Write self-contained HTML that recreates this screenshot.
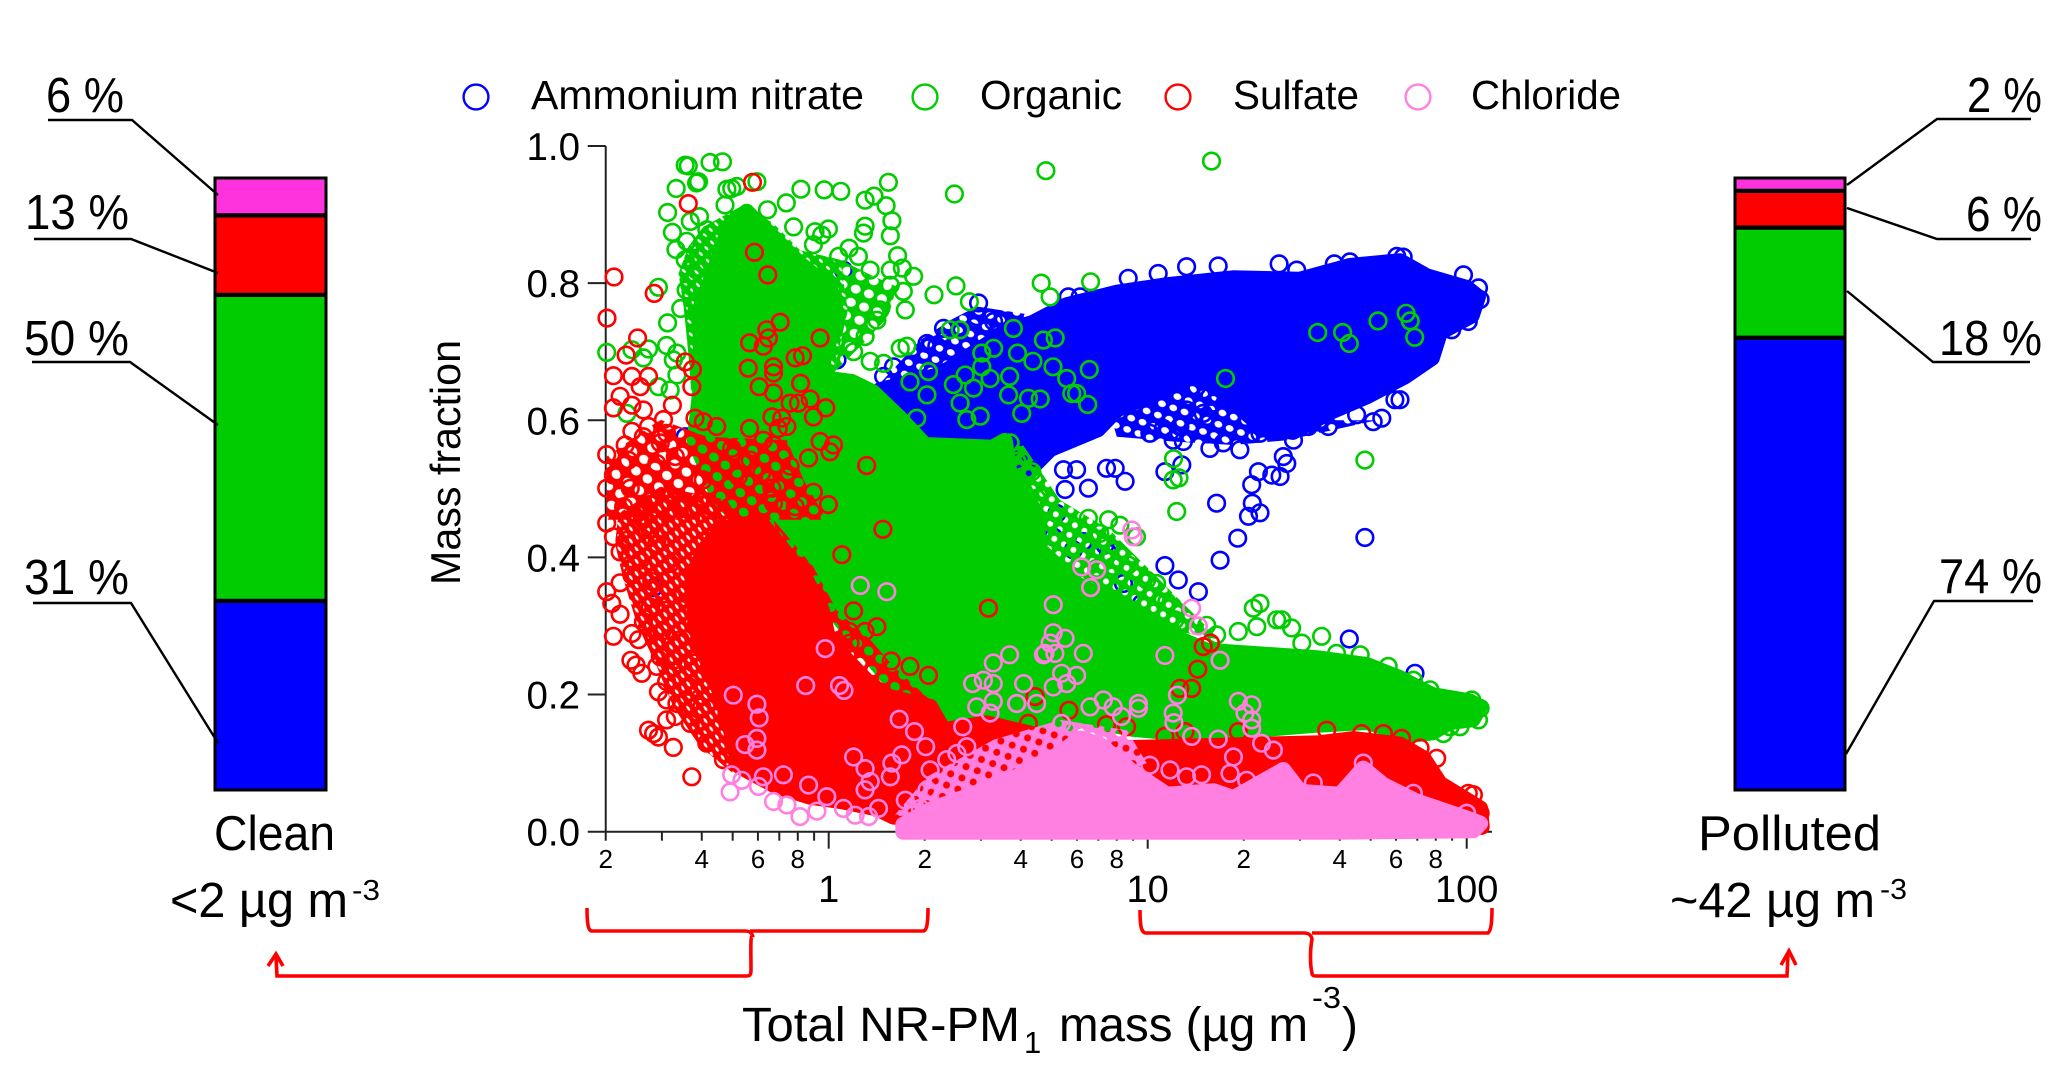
<!DOCTYPE html>
<html>
<head>
<meta charset="utf-8">
<title>NR-PM1 mass fraction</title>
<style>
html,body{margin:0;padding:0;background:#fff;width:2067px;height:1079px;overflow:hidden}
svg{display:block}
text{font-family:"Liberation Sans",sans-serif;fill:#000}
</style>
</head>
<body>
<svg id="figure" xmlns="http://www.w3.org/2000/svg" width="2067" height="1079" viewBox="0 0 2067 1079">
  <defs id="defs"></defs>
  <g id="left-bar"></g>
  <g id="right-bar"></g>

  <g fill="none" stroke="#000" stroke-width="2.4">
    <polyline points="48,120 132,120 218,195"/>
    <polyline points="34,239 131,239 218,273"/>
    <polyline points="32,362 130,362 218,425"/>
    <polyline points="33,603 131,603 218,743"/>
  </g>
  <g fill="none" stroke="#000" stroke-width="2.4">
    <polyline points="1847,185 1937,119 2031,119"/>
    <polyline points="1847,208 1937,239 2031,239"/>
    <polyline points="1847,291 1933,362 2030,362"/>
    <polyline points="1846,754 1934,601 2033,601"/>
  </g>

  <g font-size="49">
    <text x="46" y="112" textLength="78" lengthAdjust="spacingAndGlyphs">6 %</text>
    <text x="25" y="229" textLength="104" lengthAdjust="spacingAndGlyphs">13 %</text>
    <text x="24" y="355" textLength="105" lengthAdjust="spacingAndGlyphs">50 %</text>
    <text x="24" y="594" textLength="105" lengthAdjust="spacingAndGlyphs">31 %</text>
    <text x="1967" y="112" textLength="75" lengthAdjust="spacingAndGlyphs">2 %</text>
    <text x="1966" y="231" textLength="76" lengthAdjust="spacingAndGlyphs">6 %</text>
    <text x="1939" y="355" textLength="103" lengthAdjust="spacingAndGlyphs">18 %</text>
    <text x="1939" y="593" textLength="103" lengthAdjust="spacingAndGlyphs">74 %</text>
  </g>

  <g>
    <text x="214" y="850" font-size="49" textLength="121" lengthAdjust="spacingAndGlyphs">Clean</text>
    <text x="170" y="917" font-size="49" textLength="178" lengthAdjust="spacingAndGlyphs">&lt;2 µg m</text>
    <text x="352" y="900" font-size="29" textLength="28" lengthAdjust="spacingAndGlyphs">-3</text>
  </g>
  <g>
    <text x="1698" y="850" font-size="49" textLength="183" lengthAdjust="spacingAndGlyphs">Polluted</text>
    <text x="1670" y="917" font-size="49" textLength="205" lengthAdjust="spacingAndGlyphs">~42 µg m</text>
    <text x="1880" y="899" font-size="29" textLength="27" lengthAdjust="spacingAndGlyphs">-3</text>
  </g>

  <g font-size="40.5">
    <circle cx="476" cy="97" r="12.4" fill="none" stroke="#0000ff" stroke-width="2.4"/>
    <text x="531" y="109" textLength="333" lengthAdjust="spacingAndGlyphs">Ammonium nitrate</text>
    <circle cx="925" cy="97" r="12.4" fill="none" stroke="#00cc00" stroke-width="2.4"/>
    <text x="980" y="109" textLength="142" lengthAdjust="spacingAndGlyphs">Organic</text>
    <circle cx="1178" cy="97" r="12.4" fill="none" stroke="#ff0000" stroke-width="2.4"/>
    <text x="1233" y="109" textLength="126" lengthAdjust="spacingAndGlyphs">Sulfate</text>
    <circle cx="1418" cy="97" r="12.4" fill="none" stroke="#ff80e0" stroke-width="2.4"/>
    <text x="1471" y="109" textLength="150" lengthAdjust="spacingAndGlyphs">Chloride</text>
  </g>

  <g id="axes"></g>
  <g id="marks"></g>

  <text transform="translate(460,585) rotate(-90)" font-size="41.5" textLength="245" lengthAdjust="spacingAndGlyphs">Mass fraction</text>

  <g>
    <text x="742" y="1041" font-size="48" textLength="278" lengthAdjust="spacingAndGlyphs">Total NR-PM</text>
    <text x="1024" y="1053" font-size="31">1</text>
    <text x="1059" y="1041" font-size="48" textLength="249" lengthAdjust="spacingAndGlyphs">mass (µg m</text>
    <text x="1312" y="1008" font-size="31" textLength="29" lengthAdjust="spacingAndGlyphs">-3</text>
    <text x="1342" y="1041" font-size="48">)</text>
  </g>

  <g fill="none" stroke="#ff0000" stroke-width="3.6">
    <path d="M587,908 C587,922 588,931 592,931 L745,931 C750,931 752,933 753,937 C750,933 751,950 751,970 C751,975 750,976 746,976 L277,976 L276,956"/>
    <path d="M928,908 C928,922 927,931 923,931 L750,931"/>
    <path d="M268,966 L276,954 L283,966"/>
    <path d="M1140,910 C1140,925 1141,933 1146,933 L1304,933 C1309,933 1311,935 1312,939 C1310,950 1310,965 1312,973 C1312,976 1314,976 1318,976 L1787,976 L1788,953"/>
    <path d="M1781,965 L1789,951 L1796,965"/>
    <path d="M1492,908 C1492,922 1491,931 1488,933 L1312,933"/>
  </g>
</svg>

<script>
// ---------- stacked bars (percent of total mass) ----------
const barSpecies = ['nitrate', 'organic', 'sulfate', 'chloride'];
const barColors = ['#0000ff', '#00cc00', '#ff0000', '#ff33dd'];
const cleanPercent = [31, 50, 13, 6];
const pollutedPercent = [74, 18, 6, 2];

// ---------- axis ticks ----------
const yTicks = [0, 0.2, 0.4, 0.6, 0.8, 1.0];
const yTickLabels = ['0.0', '0.2', '0.4', '0.6', '0.8', '1.0'];
const xMajorTicks = [1, 10, 100];
const xMajorLabels = ['1', '10', '100'];
const xMinorTicks = [0.2, 0.3, 0.4, 0.5, 0.6, 0.7, 0.8, 0.9, 2, 3, 4, 5, 6, 7, 8, 9, 20, 30, 40, 50, 60, 70, 80, 90];
const xMinorLabelled = [0.2, 0.4, 0.6, 0.8, 2, 4, 6, 8, 20, 40, 60, 80];
const xMinorLabels = ['2', '4', '6', '8', '2', '4', '6', '8', '2', '4', '6', '8'];

// ---------- outlines of the saturated point clouds (log10 mass, mass fraction) ----------
const nitrateCloudLogMass = [0.161,0.348,0.568,0.640,0.747,0.904,1.06,1.267,1.477,1.634,
  1.791,1.875,2.0,2.035,2.016,1.916,1.891,1.806,1.687,1.571,
  1.455,1.352,1.164,1.06,0.904,0.844,0.694,0.537,0.224];
const nitrateCloudFraction = [0.644,0.666,0.732,0.742,0.768,0.786,0.797,0.807,0.805,0.825,
  0.832,0.81,0.793,0.78,0.753,0.728,0.691,0.664,0.635,0.612,
  0.583,0.593,0.67,0.646,0.616,0.587,0.558,0.484,0.484];

const organicCloudLogMass = [-0.401,-0.401,-0.401,-0.357,-0.317,-0.257,-0.197,-0.107,0.003,0.028,
  -0.012,-0.028,0.072,0.138,0.223,0.301,0.514,0.552,0.567,0.614,
  0.649,0.661,0.781,0.906,1.038,1.185,1.373,1.53,1.687,1.79,
  1.893,2.009,2.04,2.019,1.947,1.893,1.821,1.687,1.53,1.373,
  1.163,0.953,0.796,0.536,0.223,-0.091,-0.342,-0.42];
const organicCloudFraction = [0.649,0.717,0.765,0.819,0.875,0.904,0.875,0.834,0.793,0.746,
  0.70,0.662,0.656,0.641,0.603,0.564,0.56,0.57,0.52,0.498,
  0.462,0.411,0.36,0.331,0.293,0.264,0.258,0.253,0.243,0.224,
  0.199,0.19,0.182,0.164,0.16,0.145,0.141,0.16,0.156,0.15,
  0.141,0.15,0.164,0.116,0.204,0.382,0.484,0.571];

const sulfateCloudLogMass = [-0.424,-0.382,-0.33,-0.215,-0.152,-0.074,-0.022,-0.001,0.057,0.135,
  0.187,0.318,0.36,0.496,0.85,0.955,1.373,1.54,1.645,1.791,
  1.864,1.916,1.99,2.042,2.047,1.582,1.06,0.726,0.203,0.151,
  0.046,-0.058,-0.163,-0.278,-0.288,-0.33,-0.403,-0.424];
const sulfateCloudFraction = [0.377,0.416,0.442,0.452,0.416,0.37,0.323,0.28,0.25,0.212,
  0.197,0.182,0.148,0.158,0.119,0.122,0.127,0.129,0.135,0.127,
  0.107,0.07,0.049,0.034,0.007,0.002,0.002,0.007,0.022,0.034,
  0.044,0.051,0.066,0.095,0.114,0.192,0.275,0.338];

const chlorideCloudLogMass = [0.234,0.328,0.433,0.59,0.726,0.788,0.85,0.945,1.06,1.206,
  1.269,1.425,1.478,1.603,1.676,1.739,1.843,1.99,2.042,2.021,
  1.582,1.06,0.234];
const chlorideCloudFraction = [0.01,0.034,0.051,0.08,0.114,0.136,0.127,0.09,0.054,0.059,
  0.049,0.09,0.058,0.054,0.092,0.068,0.044,0.021,0.012,0.002,
  0,0,0];

// ---------- outlines of the part-resolved fringes, where rings overlap but do not saturate ----------
const nitrateFringeLeftLogMass = [0.161,0.287,0.381,0.464,0.673,0.726,0.517,0.203];
const nitrateFringeLeftFraction = [0.654,0.717,0.746,0.766,0.751,0.601,0.503,0.6];
const nitrateFringeGapLogMass = [0.882,1.08,1.373,1.582,1.718,1.436,1.269,1.08,0.903];
const nitrateFringeGapFraction = [0.61,0.654,0.669,0.6,0.6,0.571,0.564,0.569,0.576];

const organicFringeFanLogMass = [-0.471,-0.44,-0.393,-0.267,-0.173,-0.09,0.036,0.06,0.015,0.015,
  -0.372,-0.424,-0.44,-0.455];
const organicFringeFanFraction = [0.814,0.853,0.882,0.914,0.887,0.848,0.834,0.76,0.669,0.552,
  0.479,0.601,0.698,0.766];
const organicFringeRightLogMass = [0.036,0.14,0.213,0.187,0.099,0.015,0.06];
const organicFringeRightFraction = [0.834,0.81,0.795,0.751,0.708,0.669,0.76];
const organicFringeEdgeLogMass = [0.599,0.724,0.881,1.006,1.1,1.226,0.912,0.661,0.536];
const organicFringeEdgeFraction = [0.571,0.484,0.44,0.382,0.338,0.28,0.309,0.396,0.528];

const sulfateFringeFanLogMass = [-0.659,-0.67,-0.643,-0.602,-0.539,-0.487,-0.403,-0.299,-0.194,-0.194,-0.319,-0.528];
const sulfateFringeFanFraction = [0.464,0.42,0.367,0.304,0.241,0.182,0.124,0.085,0.143,0.386,0.484,0.503];
const sulfateFringeEdgeLogMass = [-0.173,-0.048,0.025,0.13,0.203,0.318,0.203,-0.006,-0.131];
const sulfateFringeEdgeFraction = [0.455,0.386,0.323,0.28,0.241,0.192,0.192,0.265,0.362];
const sulfateFringeUpperLogMass = [-0.696,-0.528,-0.382,-0.131,-0.079,-0.006,-0.696];
const sulfateFringeUpperFraction = [0.547,0.601,0.576,0.571,0.513,0.455,0.455];

const chlorideFringeLogMass = [0.203,0.308,0.517,0.726,0.935,0.997,0.726];
const chlorideFringeFraction = [0.022,0.08,0.134,0.163,0.148,0.1,0.046];

// ---------- individually resolved points (log10 mass, mass fraction) ----------
const nitrateLogMass = [0.751,0.788,0.939,1.033,1.122,1.221,1.412,1.467,1.585,1.634,
  1.781,1.801,1.99,2.037,2.042,2.005,1.953,1.791,1.775,1.734,
  1.707,1.655,1.566,1.504,1.457,1.352,1.289,1.195,1.237,1.112,
  1.08,1.049,1.007,1.174,1.122,1.195,1.154,1.206,1.101,1.425,
  1.436,1.415,1.389,1.347,1.326,1.328,1.316,1.352,0.871,0.898,
  0.777,0.736,0.929,0.814,0.741,0.715,1.054,1.107,1.216,1.282,
  1.227,1.054,1.096,1.159,1.681,1.632,1.838,0.798,0.866,0.877,
  0.767,0.704,0.924,0.981,0.046,0.026,-0.45,-0.549,0.47,0.36,
  0.308,0.339,0.464,0.517,0.172,0.203];
const nitrateFraction = [0.78,0.78,0.807,0.814,0.824,0.825,0.828,0.819,0.828,0.831,
  0.839,0.838,0.812,0.793,0.776,0.744,0.732,0.63,0.63,0.603,
  0.598,0.608,0.591,0.591,0.571,0.581,0.557,0.559,0.567,0.569,
  0.571,0.588,0.581,0.61,0.615,0.635,0.649,0.625,0.591,0.547,
  0.537,0.518,0.52,0.525,0.506,0.479,0.46,0.465,0.53,0.53,
  0.528,0.528,0.511,0.501,0.499,0.464,0.525,0.535,0.479,0.428,
  0.396,0.388,0.367,0.35,0.429,0.281,0.231,0.423,0.418,0.406,
  0.411,0.43,0.362,0.333,0.819,0.688,0.576,0.356,0.771,0.734,
  0.712,0.708,0.751,0.744,0.664,0.678];

const organicLogMass = [-0.45,-0.44,-0.372,-0.333,-0.225,-0.288,-0.304,-0.319,-0.408,-0.414,
  -0.478,-0.087,-0.014,0.038,0.187,-0.133,0.114,0.142,0.18,0.394,
  0.681,-0.505,-0.49,-0.325,-0.434,-0.405,-0.479,-0.445,-0.192,-0.11,
  -0.043,-0.001,-0.022,-0.048,0.064,0.114,0.109,0.198,0.193,0.093,
  0.031,0.216,0.193,0.231,0.266,0.13,0.24,0.234,0.399,0.33,
  0.441,0.666,0.694,-0.534,-0.464,-0.505,-0.447,-0.414,-0.45,-0.382,
  -0.508,-0.696,-0.581,-0.565,-0.617,-0.476,-0.487,-0.476,-0.534,-0.633,
  -0.497,0.193,0.161,0.151,0.114,0.078,0.13,0.224,0.245,0.172,
  0.412,0.381,0.579,0.673,0.71,0.592,0.64,0.703,0.517,0.48,
  0.48,0.428,0.313,0.255,0.567,0.564,0.626,0.663,0.605,0.308,
  0.391,0.412,0.506,0.454,0.276,0.433,0.475,0.569,0.59,0.637,
  0.652,1.2,0.821,0.746,0.817,0.777,0.812,0.762,1.533,1.611,
  1.632,1.722,1.81,1.823,1.837,1.244,1.081,1.681,1.08,1.098,
  1.091,0.814,0.877,0.913,0.965,0.85,0.939,0.892,0.84,0.997,
  1.028,1.06,1.086,1.185,1.216,1.331,1.352,1.284,1.342,1.404,
  1.42,1.451,1.483,1.545,1.592,1.666,1.754,1.833,1.885,2.016,
  2.042,2.037,1.979,1.948,1.927];
const organicFraction = [0.972,0.971,0.976,0.977,0.948,0.941,0.938,0.937,0.948,0.946,
  0.938,0.937,0.936,0.934,0.947,0.917,0.921,0.927,0.913,0.93,
  0.964,0.903,0.874,0.914,0.89,0.897,0.849,0.861,0.907,0.882,
  0.875,0.879,0.87,0.856,0.851,0.883,0.873,0.891,0.869,0.839,
  0.839,0.84,0.819,0.822,0.81,0.819,0.761,0.788,0.796,0.783,
  0.773,0.8,0.78,0.794,0.763,0.742,0.79,0.819,0.834,0.878,
  0.709,0.699,0.691,0.704,0.703,0.698,0.688,0.666,0.649,0.61,
  0.644,0.797,0.761,0.746,0.722,0.70,0.686,0.705,0.708,0.683,
  0.732,0.732,0.734,0.717,0.72,0.698,0.686,0.678,0.705,0.698,
  0.678,0.666,0.671,0.656,0.664,0.637,0.632,0.631,0.61,0.637,
  0.652,0.625,0.661,0.647,0.603,0.601,0.606,0.567,0.54,0.525,
  0.486,0.978,0.802,0.661,0.674,0.639,0.623,0.639,0.728,0.728,
  0.712,0.745,0.756,0.745,0.721,0.661,0.544,0.542,0.513,0.516,
  0.467,0.457,0.455,0.447,0.43,0.435,0.389,0.387,0.384,0.367,
  0.362,0.335,0.309,0.301,0.287,0.326,0.333,0.292,0.299,0.309,
  0.309,0.297,0.275,0.285,0.26,0.258,0.241,0.221,0.207,0.192,
  0.18,0.163,0.153,0.153,0.143];

const sulfateLogMass = [-0.239,-0.44,-0.233,-0.191,-0.673,-0.547,-0.695,-0.152,-0.194,-0.189,
  -0.248,-0.205,-0.027,-0.599,-0.105,-0.082,-0.635,-0.675,-0.617,-0.565,
  -0.45,-0.427,-0.654,-0.591,-0.675,-0.581,-0.617,-0.49,-0.429,-0.252,
  -0.173,-0.173,-0.218,-0.088,-0.173,-0.058,-0.121,-0.095,-0.009,-0.048,
  -0.178,-0.147,-0.419,-0.393,-0.351,-0.248,-0.518,-0.617,-0.565,-0.508,
  -0.581,-0.638,-0.528,-0.696,-0.628,0.015,-0.027,0.004,-0.063,0.119,
  -0.158,-0.131,-0.205,-0.173,-0.304,-0.246,-0.121,-0.21,-0.283,-0.393,
  -0.481,-0.539,-0.675,-0.696,-0.622,-0.178,-0.048,-0.105,-0.001,-0.173,
  0.17,0.041,0.078,0.151,0.114,0.065,0.067,0.196,0.255,0.313,
  0.501,-0.429,-0.565,-0.549,-0.534,-0.487,-0.696,-0.68,-0.654,-0.675,
  -0.617,-0.596,-0.62,-0.604,-0.586,-0.581,-0.617,-0.654,-0.696,-0.675,
  -0.654,-0.539,-0.539,-0.534,-0.508,-0.508,-0.481,-0.633,-0.591,-0.555,
  -0.508,-0.466,-0.424,-0.372,-0.319,-0.581,-0.539,-0.497,-0.455,-0.414,
  -0.372,-0.528,-0.508,-0.476,-0.434,-0.382,-0.33,-0.56,-0.523,-0.487,
  -0.44,-0.398,-0.643,-0.602,-0.56,1.174,1.197,1.157,1.101,1.138,
  0.647,0.753,0.934,0.871,1.054,1.117,1.284,1.561,1.671,1.739,
  1.796,1.854,1.906,2.005,2.021,2.042,1.592,0.626];
const sulfateFraction = [0.947,0.916,0.845,0.812,0.809,0.785,0.749,0.743,0.732,0.72,
  0.713,0.708,0.72,0.72,0.691,0.694,0.695,0.665,0.664,0.664,
  0.685,0.674,0.635,0.649,0.618,0.615,0.622,0.622,0.649,0.676,
  0.678,0.669,0.649,0.654,0.64,0.631,0.625,0.625,0.618,0.605,
  0.605,0.603,0.603,0.598,0.591,0.588,0.601,0.584,0.591,0.581,
  0.576,0.564,0.567,0.55,0.542,0.564,0.569,0.554,0.545,0.534,
  0.588,0.591,0.571,0.564,0.559,0.542,0.533,0.523,0.518,0.513,
  0.547,0.537,0.52,0.501,0.501,0.501,0.495,0.474,0.477,0.479,
  0.441,0.404,0.322,0.299,0.292,0.292,0.275,0.249,0.241,0.228,
  0.326,0.08,0.148,0.143,0.138,0.123,0.35,0.333,0.317,0.285,
  0.289,0.28,0.25,0.243,0.231,0.306,0.374,0.363,0.45,0.43,
  0.408,0.275,0.241,0.204,0.192,0.163,0.168,0.425,0.396,0.365,
  0.323,0.28,0.246,0.212,0.173,0.455,0.42,0.391,0.348,0.304,
  0.26,0.255,0.219,0.187,0.158,0.129,0.105,0.328,0.292,0.25,
  0.212,0.182,0.474,0.464,0.44,0.27,0.275,0.237,0.209,0.209,
  0.197,0.177,0.153,0.156,0.139,0.146,0.146,0.148,0.143,0.143,
  0.136,0.122,0.107,0.056,0.054,0.027,0.08,0.158];

const chlorideLogMass = [0.099,0.182,-0.299,-0.072,0.034,0.048,-0.225,-0.218,-0.225,-0.262,
  -0.225,-0.011,0.221,0.269,0.304,0.078,0.114,0.198,0.229,0.193,
  0.13,0.114,-0.142,-0.205,-0.304,-0.272,-0.309,-0.22,-0.173,-0.131,
  -0.063,-0.09,-0.006,-0.037,0.046,0.083,0.125,0.156,0.24,0.287,
  0.318,0.37,0.402,0.433,0.308,0.42,0.516,0.567,0.704,0.673,
  0.694,0.611,0.451,0.485,0.516,0.59,0.464,0.506,0.516,0.652,
  0.704,0.741,0.678,0.709,0.798,0.73,0.777,0.746,0.704,0.589,
  0.819,0.861,0.892,0.971,0.971,0.73,0.918,0.95,0.955,0.793,
  0.84,0.821,1.054,1.138,1.159,1.227,1.093,1.08,1.082,1.284,
  1.326,1.305,1.326,1.326,1.138,1.221,1.357,1.269,1.394,1.258,
  1.31,1.169,1.07,1.122,1.007,1.519,1.676,1.833,2.0];
const chlorideFraction = [0.359,0.35,0.199,0.213,0.213,0.206,0.186,0.166,0.136,0.127,
  0.119,0.267,0.164,0.146,0.124,0.109,0.092,0.1,0.112,0.08,
  0.073,0.061,0.083,0.08,0.083,0.075,0.058,0.066,0.044,0.039,
  0.068,0.022,0.051,0.03,0.034,0.024,0.022,0.034,0.046,0.034,
  0.09,0.105,0.114,0.124,0.061,0.153,0.246,0.258,0.331,0.258,
  0.275,0.216,0.216,0.221,0.216,0.187,0.182,0.173,0.19,0.187,
  0.29,0.282,0.26,0.26,0.26,0.231,0.228,0.216,0.211,0.187,
  0.182,0.192,0.182,0.187,0.18,0.158,0.168,0.44,0.43,0.386,
  0.382,0.356,0.257,0.326,0.3,0.25,0.199,0.173,0.159,0.19,
  0.185,0.173,0.163,0.151,0.139,0.135,0.129,0.109,0.119,0.085,
  0.075,0.083,0.09,0.08,0.097,0.071,0.1,0.056,0.027];

// ---------- scales ----------
const SVGNS = 'http://www.w3.org/2000/svg';
function xLog(logMass) { return 828.7 + 319 * logMass; }
function xMass(mass) { return xLog(Math.log10(mass)); }
function yFrac(fraction) { return 831.7 - 685.7 * fraction; }
function barY(percent) { return 790 - 6.12 * percent; }

function make(tag, attrs, parent) {
  const el = document.createElementNS(SVGNS, tag);
  for (const k in attrs) el.setAttribute(k, attrs[k]);
  parent.appendChild(el);
  return el;
}

// ---------- stacked bars ----------
function drawBar(host, x0, x1, values, prefix) {
  let cum = 0;
  values.forEach(function (v, i) {
    const top = barY(cum + v), bottom = barY(cum);
    const seg = make('rect', {x: x0, y: top, width: x1 - x0, height: bottom - top, fill: barColors[i], stroke: '#000', 'stroke-width': 3}, host);
    
    
    cum += v;
    if (i < values.length - 1) {
      const sep = make('line', {x1: x0, x2: x1, y1: barY(cum), y2: barY(cum), stroke: '#000', 'stroke-width': 5.5}, host);
      
      
    }
  });
}
drawBar(document.getElementById('left-bar'), 215, 326, cleanPercent, 'clean');
drawBar(document.getElementById('right-bar'), 1735, 1845, pollutedPercent, 'polluted');

// ---------- axes ----------
const axes = document.getElementById('axes');
const axisColor = '#222';
const yAxisLine = make('line', {x1: xMass(0.2), x2: xMass(0.2), y1: yFrac(1), y2: yFrac(0), stroke: axisColor, 'stroke-width': 2}, axes);


const xAxisLine = make('line', {x1: xMass(0.2), x2: xMass(120), y1: yFrac(0), y2: yFrac(0), stroke: axisColor, 'stroke-width': 2}, axes);



yTicks.forEach(function (v, i) {
  const t = make('line', {x1: xMass(0.2) - 18, x2: xMass(0.2), y1: yFrac(v), y2: yFrac(v), stroke: axisColor, 'stroke-width': 2}, axes);
  
  
  const l = make('text', {x: 580, y: yFrac(v) + 14, 'font-size': 38.5, 'text-anchor': 'end'}, axes);
  l.textContent = yTickLabels[i];
  
  
});
xMajorTicks.forEach(function (v, i) {
  const t = make('line', {x1: xMass(v), x2: xMass(v), y1: yFrac(0), y2: yFrac(0) + 17, stroke: axisColor, 'stroke-width': 2}, axes);
  
  
  const l = make('text', {x: xMass(v), y: 902, 'font-size': 38, 'text-anchor': 'middle'}, axes);
  l.textContent = xMajorLabels[i];
  
  
});
xMinorTicks.forEach(function (v) {
  const t = make('line', {x1: xMass(v), x2: xMass(v), y1: yFrac(0), y2: yFrac(0) + 9, stroke: axisColor, 'stroke-width': 2}, axes);
  
  
});
xMinorLabelled.forEach(function (v, i) {
  const l = make('text', {x: xMass(v), y: 868, 'font-size': 26, 'text-anchor': 'middle'}, axes);
  l.textContent = xMinorLabels[i];
  
  
});

// ---------- speckled fills for the part-resolved fringes: solid colour with see-through gaps ----------
const defs = document.getElementById('defs');
function speckle(id, color, w, h, rx, ry, angle) {
  const p = make('pattern', {id: id, patternUnits: 'userSpaceOnUse', width: w, height: h, patternTransform: 'rotate(' + angle + ')'}, defs);
  const cx = w / 2, cy = h / 2;
  const d = 'M0,0H' + w + 'V' + h + 'H0Z M' + (cx - rx) + ',' + cy +
    'A' + rx + ',' + ry + ' 0 1,0 ' + (cx + rx) + ',' + cy +
    'A' + rx + ',' + ry + ' 0 1,0 ' + (cx - rx) + ',' + cy + 'Z';
  make('path', {d: d, fill: color, 'fill-rule': 'evenodd'}, p);
}
speckle('nitrate-medium', '#0000ff', 12, 12, 4, 3.2, 20);
speckle('organic-dense', '#00cc00', 10, 8, 2.6, 1.2, 45);
speckle('organic-medium', '#00cc00', 11, 11, 3, 3, 30);
speckle('organic-sparse', '#00cc00', 14, 14, 5, 4.5, 20);
speckle('sulfate-dense', '#ff0000', 10, 7, 3, 1.2, 55);
speckle('sulfate-sparse', '#ff0000', 14, 14, 5, 4.5, 35);
speckle('chloride-medium', '#ff80e0', 12, 12, 3.5, 3.5, 20);

// ---------- series ----------
const marks = document.getElementById('marks');
function outlinePath(xs, ys) {
  return xs.map(function (l, i) {
    return (i ? 'L' : 'M') + xLog(l).toFixed(1) + ',' + yFrac(ys[i]).toFixed(1);
  }).join(' ') + ' Z';
}
function drawSeries(name, color, fringes, cloudX, cloudY, ptX, ptY) {
  const g = make('g', {}, marks);
  
  
  fringes.forEach(function (f) {
    const fr = make('path', {d: outlinePath(f[0], f[1]), fill: 'url(#' + f[2] + ')'}, g);
    
    
  });
  const cloud = make('path', {d: outlinePath(cloudX, cloudY), fill: color, stroke: color, 'stroke-width': 16, 'stroke-linejoin': 'round'}, g);
  
  
  ptX.forEach(function (l, i) {
    const c = make('circle', {cx: xLog(l).toFixed(1), cy: yFrac(ptY[i]).toFixed(1), r: 8.3, fill: 'none', stroke: color, 'stroke-width': 2.6}, g);
    
    
  });
}
drawSeries('ammonium-nitrate', '#0000ff',
  [[nitrateFringeLeftLogMass, nitrateFringeLeftFraction, 'nitrate-medium'], [nitrateFringeGapLogMass, nitrateFringeGapFraction, 'nitrate-medium']],
  nitrateCloudLogMass, nitrateCloudFraction, nitrateLogMass, nitrateFraction);
drawSeries('organic', '#00cc00',
  [[organicFringeFanLogMass, organicFringeFanFraction, 'organic-dense'], [organicFringeRightLogMass, organicFringeRightFraction, 'organic-sparse'], [organicFringeEdgeLogMass, organicFringeEdgeFraction, 'organic-medium']],
  organicCloudLogMass, organicCloudFraction, organicLogMass, organicFraction);
drawSeries('sulfate', '#ff0000',
  [[sulfateFringeUpperLogMass, sulfateFringeUpperFraction, 'sulfate-sparse'], [sulfateFringeFanLogMass, sulfateFringeFanFraction, 'sulfate-dense'], [sulfateFringeEdgeLogMass, sulfateFringeEdgeFraction, 'sulfate-sparse']],
  sulfateCloudLogMass, sulfateCloudFraction, sulfateLogMass, sulfateFraction);
drawSeries('chloride', '#ff80e0',
  [[chlorideFringeLogMass, chlorideFringeFraction, 'chloride-medium']],
  chlorideCloudLogMass, chlorideCloudFraction, chlorideLogMass, chlorideFraction);
</script>
</body>
</html>
